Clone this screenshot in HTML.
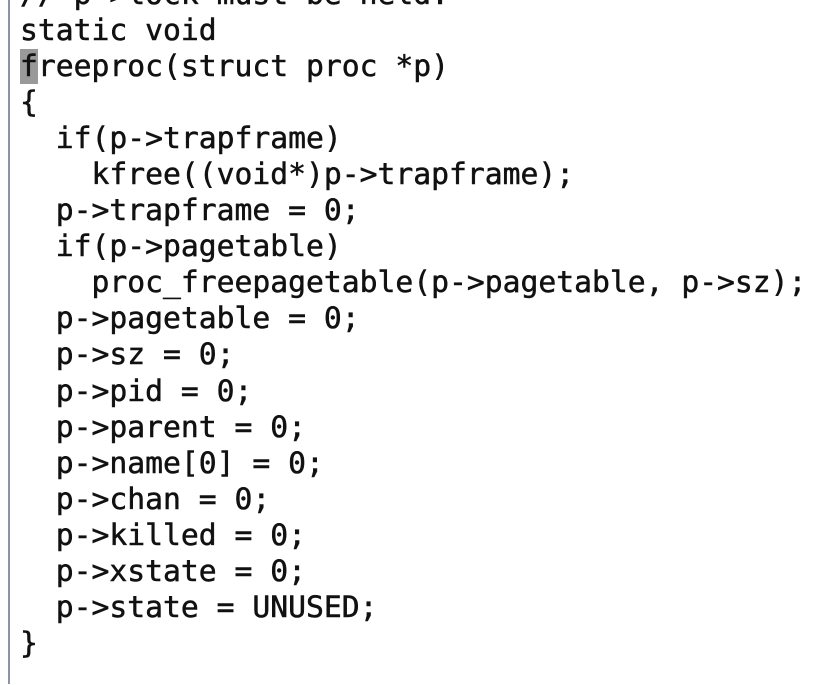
<!DOCTYPE html>
<html><head><style>
html,body{margin:0;padding:0;background:#fff;width:838px;height:685px;overflow:hidden;position:relative}
.bar{position:absolute;left:8px;top:0;width:2px;height:684px;background:#8a94a6}
pre{position:absolute;left:20px;top:-23px;margin:0;font-family:"DejaVu Sans Mono","Liberation Mono",monospace;font-size:29.7px;line-height:36.05px;color:#111;-webkit-text-stroke:0.5px #111}
.cur{background:#999;}
</style></head><body>
<div class="bar"></div>
<pre>// p->lock must be held.
static void
<span class="cur">f</span>reeproc(struct proc *p)
{
  if(p->trapframe)
    kfree((void*)p->trapframe);
  p->trapframe = 0;
  if(p->pagetable)
    proc_freepagetable(p->pagetable, p->sz);
  p->pagetable = 0;
  p->sz = 0;
  p->pid = 0;
  p->parent = 0;
  p->name[0] = 0;
  p->chan = 0;
  p->killed = 0;
  p->xstate = 0;
  p->state = UNUSED;
}</pre>
</body></html>
